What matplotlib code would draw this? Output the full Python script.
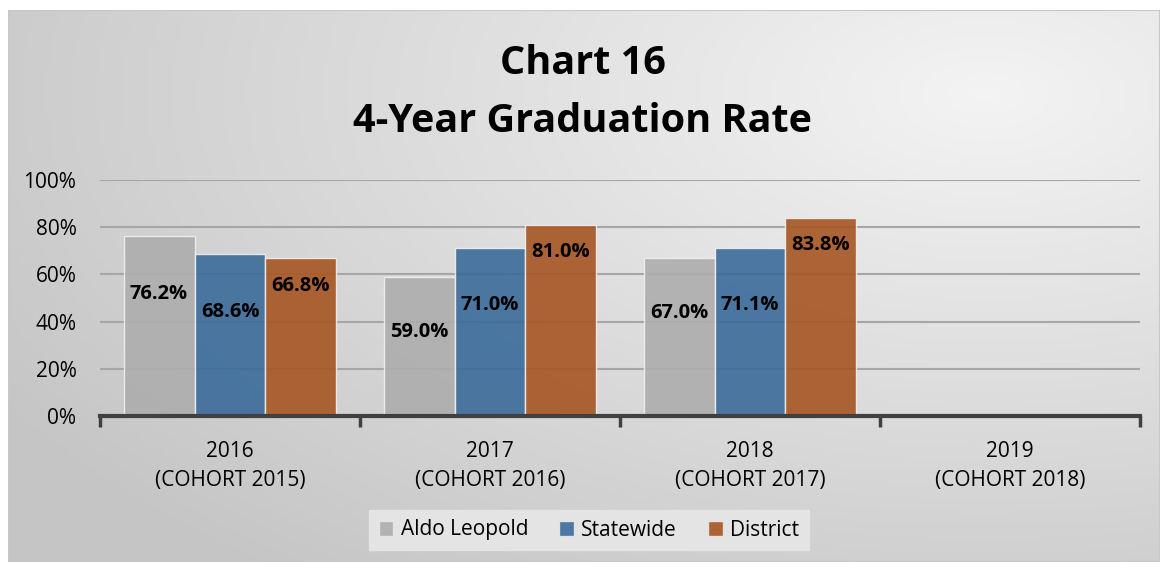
import numpy as np
import matplotlib
matplotlib.use("Agg")
import matplotlib.pyplot as plt
from matplotlib.patches import Rectangle, Patch

plt.rcParams['font.family'] = ['Open Sans', 'DejaVu Sans']

categories = ["2016\n(COHORT 2015)", "2017\n(COHORT 2016)", "2018\n(COHORT 2017)", "2019\n(COHORT 2018)"]
series_names = ["Aldo Leopold", "Statewide", "District"]
aldo = [76.2, 59.0, 67.0, np.nan]
statewide = [68.6, 71.0, 71.1, np.nan]
district = [66.8, 81.0, 83.8, np.nan]
yticks = [0, 20, 40, 60, 80, 100]
ytick_labels = ["0%", "20%", "40%", "60%", "80%", "100%"]
title = "Chart 16\n4-Year Graduation Rate"

colors = ["#adadad", "#3a6b9a", "#a65522"]
# data label vertical positions (as in the original, labels sit inside bars)
label_y = [[51.5, 35.5, 43.5], [44.0, 47.0, 47.0], [55.0, 69.5, 72.5]]

fig = plt.figure(figsize=(11.65, 5.64), dpi=100)
fig.patch.set_facecolor("white")

# background panel with gradient
bg = fig.add_axes([8/1165, 1-562/564, 1152/1165, 552/564])
bg.set_xlim(0, 1); bg.set_ylim(0, 1)
nx, ny = 300, 150
xx, yy = np.meshgrid(np.linspace(0, 1, nx), np.linspace(0, 1, ny))
d = np.sqrt(((xx - 0.85) * 1.0) ** 2 + ((yy - 0.85) * 0.9) ** 2)
val = 0.955 - 0.18 * np.clip(d / 1.0, 0, 1)
img = np.dstack([val, val, val])
bg.imshow(img, extent=[0, 1, 0, 1], origin="lower", aspect="auto", zorder=0)
bg.add_patch(Rectangle((0, 0), 1, 1, fill=False, edgecolor="#c8c8c8", lw=1.5, transform=bg.transAxes))
bg.set_axis_off()

fig.text(0.5, 1 - 63/564, "Chart 16", ha="center", va="center", fontsize=28.5, fontweight="bold", color="black")
fig.text(0.5, 1 - 121/564, "4-Year Graduation Rate", ha="center", va="center", fontsize=28.5, fontweight="bold", color="black")

ax = fig.add_axes([100/1165, 1-416/564, 1040/1165, 236/564])
ax.patch.set_alpha(0)
ax.set_xlim(-0.5, 3.5)
ax.set_ylim(0, 100)

x = np.arange(len(categories))
w = 0.273
all_series = [aldo, statewide, district]
for i, (vals, c) in enumerate(zip(all_series, colors)):
    ax.bar(x + (i - 1) * w, vals, width=w, color=c, alpha=0.9, edgecolor="#f0f0f0", linewidth=1.0, zorder=3)
    for j, v in enumerate(vals):
        if not np.isnan(v):
            ax.text(x[j] + (i - 1) * w, label_y[i][j], f"{v:.1f}%", ha="center", va="center",
                    fontsize=14.5, fontweight="bold", color="black", zorder=5)

ax.set_yticks(yticks)
ax.set_yticklabels(ytick_labels, fontsize=15)
ax.yaxis.grid(True, color="#a6a6a6", lw=1.5, zorder=1)
ax.set_axisbelow(True)
ax.tick_params(axis="y", length=0, pad=17)
for s in ["left", "right", "top"]:
    ax.spines[s].set_visible(False)
ax.spines["bottom"].set_color("#404040")
ax.spines["bottom"].set_linewidth(3)
ax.spines["bottom"].set_zorder(6)

ax.set_xticks([-0.5, 0.5, 1.5, 2.5, 3.5], minor=False)
ax.set_xticklabels([])
ax.tick_params(axis="x", which="major", length=8, width=2.5, color="#404040", direction="out")
ax.set_xticks(x, minor=True)
ax.set_xticklabels(categories, minor=True, fontsize=15, linespacing=1.5)
ax.tick_params(axis="x", which="minor", length=0, pad=18)

# legend
handles = [Patch(facecolor=c, edgecolor="#e8e8e8", alpha=0.9) for c in colors]
leg = fig.legend(handles, series_names, loc="center", bbox_to_anchor=(589/1165, 1 - 530/564),
                 ncol=3, frameon=True, fontsize=15, handlelength=0.7, handleheight=0.7,
                 handletextpad=0.35, columnspacing=1.5, borderpad=0.45, fancybox=False)
leg.get_frame().set_facecolor("#e4e4e4")
leg.get_frame().set_edgecolor("#e4e4e4")
leg.get_frame().set_alpha(1)

fig.savefig("out.png", dpi=100)
